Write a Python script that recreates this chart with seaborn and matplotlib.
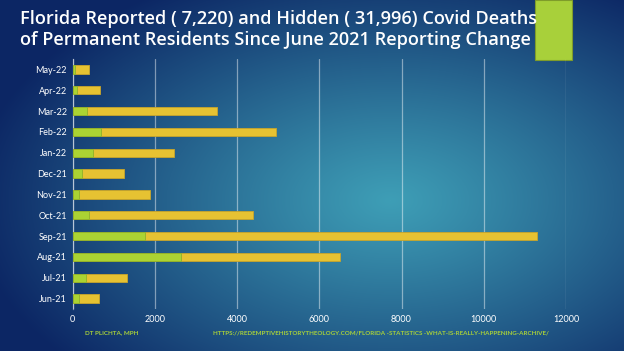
import numpy as np
import pandas as pd
import matplotlib
matplotlib.use("Agg")
import matplotlib.pyplot as plt
import seaborn as sns

# monthly deaths (top row first, as on the slide)
months = ["May-22", "Apr-22", "Mar-22", "Feb-22", "Jan-22", "Dec-21",
          "Nov-21", "Oct-21", "Sep-21", "Aug-21", "Jul-21", "Jun-21"]
reported = [60, 100, 345, 700, 505, 225, 165, 400, 1770, 2630, 335, 165]
hidden = [340, 560, 3160, 4250, 1965, 1030, 1710, 3980, 9535, 3875, 990, 480]
xticks = [0, 2000, 4000, 6000, 8000, 10000, 12000]

title = ("Florida Reported ( 7,220) and Hidden ( 31,996) Covid Deaths\n"
         "of Permanent Residents Since June 2021 Reporting Change")
author = "DT PLICHTA, MPH"
source = "HTTPS://REDEMPTIVEHISTORYTHEOLOGY.COM/FLORIDA -STATISTICS -WHAT-IS-REALLY-HAPPENING-ARCHIVE/"

df = pd.DataFrame({"month": months, "reported": reported, "hidden": hidden})
df["total"] = df["reported"] + df["hidden"]

sns.set_theme(style="white")
plt.rcParams["font.family"] = ["Lato", "DejaVu Sans"]

fig = plt.figure(figsize=(6.24, 3.51), dpi=100)

# slide background: radial blue gradient
bg = fig.add_axes([0, 0, 1, 1], zorder=0)
h, w = 351, 624
yy, xx = np.mgrid[0:h, 0:w]
d = np.sqrt(((xx - 390) / 420.0) ** 2 + ((yy - 200) / 250.0) ** 2)
d = np.clip(d, 0, 1) ** 1.1
inner = np.array([62, 158, 182]) / 255.0
outer = np.array([12, 38, 100]) / 255.0
img = inner[None, None, :] * (1 - d[..., None]) + outer[None, None, :] * d[..., None]
bg.imshow(img, aspect="auto", extent=[0, 1, 0, 1])
bg.axis("off")

# green accent block top right
fig.patches.append(plt.Rectangle((535 / w, 1 - 60 / h), 37 / w, 60 / h,
                                 transform=fig.transFigure, facecolor="#a8d03a",
                                 edgecolor="#7f9c2a", linewidth=0.8, zorder=1))

ax = fig.add_axes([72.5 / w, 42 / h, 493.5 / w, 250 / h], zorder=2)
ax.patch.set_alpha(0)

sns.barplot(data=df, y="month", x="total", color="#e6c232", width=0.4,
            edgecolor="#c9a52a", linewidth=0.6, saturation=1, ax=ax, zorder=3)
sns.barplot(data=df, y="month", x="reported", color="#abd333", width=0.4,
            edgecolor="#8fb02a", linewidth=0.6, saturation=1, ax=ax, zorder=4)

ax.set_xlim(0, 12000)
ax.set_xticks(xticks)
ax.set_xlabel("")
ax.set_ylabel("")
ax.grid(axis="x", color="white", alpha=0.45, linewidth=0.9, zorder=0)
ax.grid(axis="y", visible=False)
for s in ["top", "right", "bottom"]:
    ax.spines[s].set_visible(False)
ax.spines["left"].set_color((1, 1, 1, 0.45))
ax.spines["left"].set_linewidth(0.9)
ax.tick_params(axis="both", colors="white", labelsize=6.5, length=0, pad=4)
for lab in ax.get_xticklabels() + ax.get_yticklabels():
    lab.set_color("white")

fig.text(20 / w, 1 - 10 / h, title, color="white", fontsize=13.1, fontweight="semibold",
         va="top", ha="left", linespacing=1.2, family=["Open Sans", "DejaVu Sans"],
         zorder=3)

fig.text(85 / w, 1 - 333 / h, author, color="#a8d03a", fontsize=4.5,
         fontweight="bold", va="center", ha="left")
fig.text(213 / w, 1 - 333 / h, source, color="#a8d03a", fontsize=4.5,
         fontweight="bold", va="center", ha="left")

fig.savefig("out.png", dpi=100)
